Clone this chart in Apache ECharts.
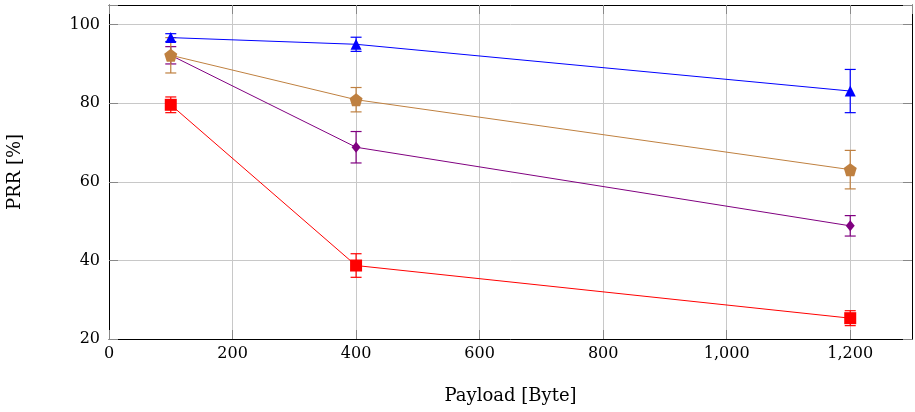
<!DOCTYPE html>
<html>
<head>
<meta charset="utf-8">
<script src="https://cdn.jsdelivr.net/npm/echarts@6/dist/echarts.min.js"></script>
<style>
html,body{margin:0;padding:0;background:#fff;}
#chart{width:915px;height:412px;}
</style>
</head>
<body>
<div id="chart"></div>
<script>
var payloads = [100, 400, 1200];
var blueMean = [96.7, 95.0, 83.1];
var blueErr = [1.0, 1.8, 5.5];
var orangeMean = [92.2, 80.9, 63.1];
var orangeErr = [4.5, 3.1, 4.9];
var purpleMean = [92.2, 68.8, 48.8];
var purpleErr = [2.2, 4.0, 2.6];
var redMean = [79.6, 38.7, 25.3];
var redErr = [2.0, 3.0, 1.9];
var xTicks = [0, 200, 400, 600, 800, 1000, 1200];
var yTicks = [20, 40, 60, 80, 100];

var FONT = 'DejaVu Serif';
var PENTAGON = 'path://M0,-1 L0.951,-0.309 L0.588,0.809 L-0.588,0.809 L-0.951,-0.309 Z';

function pts(mean) { return payloads.map(function (x, i) { return [x, mean[i]]; }); }
function errs(mean, err) { return payloads.map(function (x, i) { return [x, mean[i] - err[i], mean[i] + err[i]]; }); }

function errSeries(mean, err, color) {
  return {
    type: 'custom',
    z: 2,
    data: errs(mean, err),
    encode: { x: 0, y: [1, 2] },
    renderItem: function (params, api) {
      var lo = api.coord([api.value(0), api.value(1)]);
      var hi = api.coord([api.value(0), api.value(2)]);
      var w = 5.5;
      var st = { stroke: color, lineWidth: 1.2 };
      return {
        type: 'group',
        children: [
          { type: 'line', shape: { x1: lo[0], y1: lo[1], x2: hi[0], y2: hi[1] }, style: st },
          { type: 'line', shape: { x1: lo[0] - w, y1: lo[1], x2: lo[0] + w, y2: lo[1] }, style: st },
          { type: 'line', shape: { x1: hi[0] - w, y1: hi[1], x2: hi[0] + w, y2: hi[1] }, style: st }
        ]
      };
    }
  };
}

function lineSeries(mean, color, symbol, size) {
  return {
    type: 'line',
    z: 3,
    data: pts(mean),
    symbol: symbol,
    symbolSize: size,
    showAllSymbol: true,
    lineStyle: { color: color, width: 1 },
    itemStyle: { color: color },
    animation: false
  };
}

var tickLabel = { fontFamily: FONT, fontSize: 16, color: '#000' };

var option = {
  animation: false,
  grid: { left: 109, right: 3, top: 5, bottom: 73, outerBoundsMode: 'none', containLabel: false },
  xAxis: [{
    type: 'value', min: 0, max: 1300, interval: 200,
    name: 'Payload [Byte]', nameLocation: 'middle', nameGap: 48,
    nameTextStyle: { fontFamily: FONT, fontSize: 18, color: '#000' },
    axisLine: { show: true, onZero: false, lineStyle: { color: '#000', width: 1 } },
    axisTick: { show: true, inside: true, length: 9, lineStyle: { color: '#888' } },
    axisLabel: Object.assign({ margin: 7, showMaxLabel: false, formatter: function (v) { return xTicks.indexOf(v) >= 0 ? v.toLocaleString('en-US') : ''; } }, tickLabel),
    splitLine: { show: true, lineStyle: { color: '#c8c8c8', width: 1 } }
  }, {
    type: 'value', min: 0, max: 1300, interval: 200, position: 'top',
    axisLine: { show: true, onZero: false, lineStyle: { color: '#000', width: 1 } },
    axisTick: { show: true, inside: true, length: 9, lineStyle: { color: '#888' } },
    axisLabel: { show: false }, splitLine: { show: false }
  }],
  yAxis: [{
    type: 'value', min: 20, max: 105, interval: 20,
    name: 'PRR [%]', nameLocation: 'middle', nameGap: 85, nameRotate: 90,
    nameTextStyle: { fontFamily: FONT, fontSize: 18, color: '#000' },
    axisLine: { show: true, onZero: false, lineStyle: { color: '#000', width: 1 } },
    axisTick: { show: true, inside: true, length: 9, lineStyle: { color: '#888' } },
    axisLabel: Object.assign({ margin: 9, formatter: function (v) { return yTicks.indexOf(v) >= 0 ? String(v) : ''; } }, tickLabel),
    splitLine: { show: true, lineStyle: { color: '#c8c8c8', width: 1 } }
  }, {
    type: 'value', min: 20, max: 105, interval: 20, position: 'right',
    axisLine: { show: true, onZero: false, lineStyle: { color: '#000', width: 1 } },
    axisTick: { show: true, inside: true, length: 9, lineStyle: { color: '#888' } },
    axisLabel: { show: false }, splitLine: { show: false }
  }],
  series: [
    errSeries(redMean, redErr, '#ff0000'),
    errSeries(purpleMean, purpleErr, '#800080'),
    errSeries(orangeMean, orangeErr, '#bf8040'),
    errSeries(blueMean, blueErr, '#0000ff'),
    lineSeries(redMean, '#ff0000', 'rect', 12),
    lineSeries(purpleMean, '#800080', 'diamond', [9, 11]),
    lineSeries(orangeMean, '#bf8040', PENTAGON, 13),
    lineSeries(blueMean, '#0000ff', 'triangle', 11)
  ]
};

var chart = echarts.init(document.getElementById('chart'), null, { renderer: 'canvas' });
chart.setOption(option);
</script>
</body>
</html>
